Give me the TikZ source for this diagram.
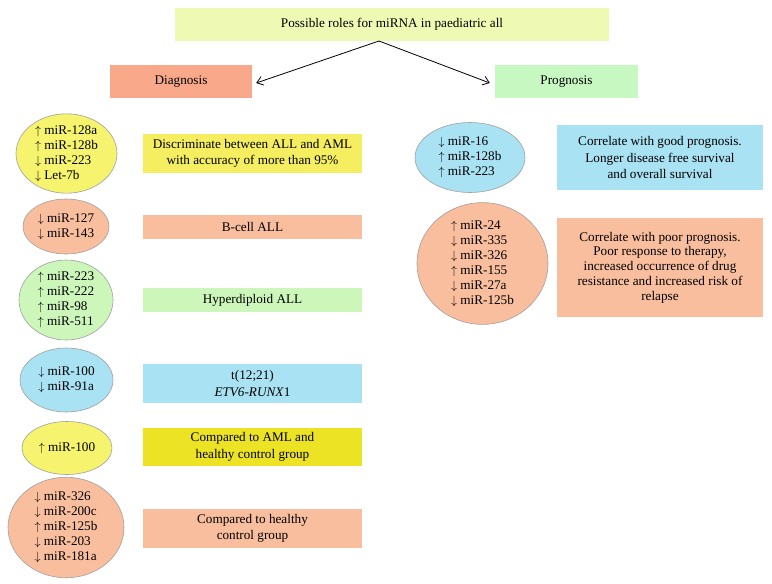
\documentclass[tikz,border=0pt]{standalone}
\usepackage{fontspec}
\setmainfont{Liberation Serif}
\usetikzlibrary{shapes.geometric,arrows.meta}
\definecolor{ctitle}{HTML}{EEFAB4}
\definecolor{cdiag}{HTML}{F9A98A}
\definecolor{cprog}{HTML}{C8F8C2}
\definecolor{cyel}{HTML}{F6F36E}
\definecolor{cyelbox}{HTML}{F5EE60}
\definecolor{csal}{HTML}{F9BE9E}
\definecolor{cgreen}{HTML}{CDF6BA}
\definecolor{cblue}{HTML}{A9E2F3}
\definecolor{cyel2}{HTML}{ECE325}
\definecolor{cedge}{HTML}{A0A0A0}
\newcommand{\up}{$\uparrow$\ }
\newcommand{\dn}{$\downarrow$\ }
\tikzset{
  box/.style={rectangle,inner sep=0pt,align=center,font=\fontsize{13.2}{16.5}\selectfont},
  ell/.style={ellipse,draw=cedge,line width=0.6pt,inner sep=0pt,align=left,font=\fontsize{13.2}{15}\selectfont},
  arr/.style={-{Straight Barb[length=6pt,width=9pt]},line width=0.8pt,black}
}
\begin{document}
\begin{tikzpicture}[x=1pt,y=-1pt]
\useasboundingbox (0,0) rectangle (772,584);
\fill[white] (0,0) rectangle (772,584);
% top
\node[box,fill=ctitle,minimum width=434pt,minimum height=33pt] (title) at (392,24.5) {Possible roles for miRNA in paediatric all};
\node[box,fill=cdiag,minimum width=142pt,minimum height=33pt] (diag) at (181,81.5) {Diagnosis};
\node[box,fill=cprog,minimum width=143pt,minimum height=33pt] (prog) at (566.5,81.5) {Prognosis};
\coordinate (apex) at (379,41);
\draw[arr] (apex) -- ([xshift=4pt,yshift=-1.5pt]diag.east);
\draw[arr] (apex) -- ([xshift=-5pt,yshift=-1.5pt]prog.west);
% diagnosis column
\node[ell,fill=cyel,minimum width=101pt,minimum height=79pt] (e1) at (66.5,153.5) {\up miR-128a\\\up miR-128b\\\dn miR-223\\\dn Let-7b};
\node[box,fill=cyelbox,minimum width=219pt,minimum height=39pt] (r1) at (252.5,153.5) {Discriminate between ALL and AML\\with accuracy of more than 95\%};
\node[ell,fill=csal,minimum width=86pt,minimum height=55pt] (e2) at (66,226.5) {\dn miR-127\\\dn miR-143};
\node[box,fill=csal,minimum width=219pt,minimum height=24pt] (r2) at (252.5,227) {B-cell ALL};
\node[ell,fill=cgreen,minimum width=94pt,minimum height=80pt] (e3) at (66,300) {\up miR-223\\\up miR-222\\\up miR-98\\\up miR-511};
\node[box,fill=cgreen,minimum width=219pt,minimum height=24pt] (r3) at (252.5,300) {Hyperdiploid ALL};
\node[ell,fill=cblue,minimum width=93pt,minimum height=64pt] (e4) at (66.5,380) {\dn miR-100\\\dn miR-91a};
\node[box,fill=cblue,minimum width=219pt,minimum height=39pt] (r4) at (252.5,383.5) {t(12;21)\\\textit{ETV6-RUNX}1};
\node[ell,fill=cyel,minimum width=90pt,minimum height=53pt] (e5) at (67,448) {\up miR-100};
\node[box,fill=cyel2,minimum width=219pt,minimum height=38pt] (r5) at (252.5,447) {Compared to AML and\\healthy control group};
\node[ell,fill=csal,minimum width=116pt,minimum height=97pt] (e6) at (66,527.5) {\dn miR-326\\\dn miR-200c\\\up miR-125b\\\dn miR-203\\\dn miR-181a};
\node[box,fill=csal,minimum width=219pt,minimum height=39pt] (r6) at (252.5,528.5) {Compared to healthy\\control group};
% prognosis column
\node[ell,fill=cblue,minimum width=110pt,minimum height=70pt] (e7) at (470,157.5) {\dn miR-16\\\up miR-128b\\\up miR-223};
\node[box,fill=cblue,minimum width=206pt,minimum height=65pt] (r7) at (660,157.5) {Correlate with good prognosis.\\Longer disease free survival\\and overall survival};
\node[ell,fill=csal,minimum width=131pt,minimum height=117pt] (e8) at (482.5,263.5) {\up miR-24\\\dn miR-335\\\dn miR-326\\\up miR-155\\\dn miR-27a\\\dn miR-125b};
\node[box,fill=csal,minimum width=206pt,minimum height=99pt,font=\fontsize{13.2}{14.8}\selectfont] (r8) at (660,267.5) {Correlate with poor prognosis.\\Poor response to therapy,\\increased occurrence of drug\\resistance and increased risk of\\relapse};
\end{tikzpicture}
\end{document}
